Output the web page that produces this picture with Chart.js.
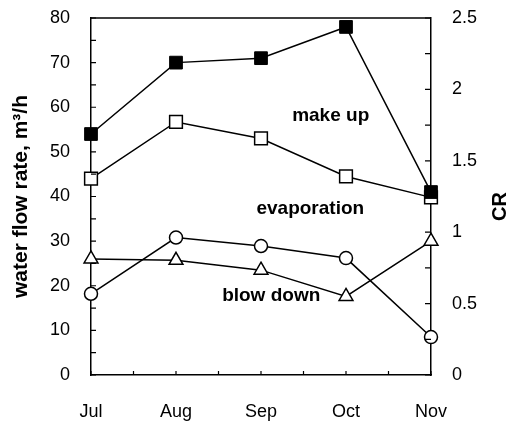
<!DOCTYPE html>
<html>
<head>
<meta charset="utf-8">
<script src="https://cdn.jsdelivr.net/npm/chart.js@4.4.1/dist/chart.umd.min.js"></script>
<style>
  html, body { margin: 0; padding: 0; background: #fff; }
  #wrap { width: 510px; height: 424px; position: relative; }
</style>
</head>
<body>
<div id="wrap"><canvas id="flowChart"></canvas></div>
<script>
// monthly values (left axis, m3/h)
const months = ['Jul', 'Aug', 'Sep', 'Oct', 'Nov'];
const makeUp = [54, 70, 71, 78, 41];               // filled squares
const makeUpCalc = [44, 56.7, 53, 44.5, 39.8];     // open squares
const evaporation = [18.2, 30.8, 28.9, 26.2, 8.5]; // circles
const blowDown = [26, 25.7, 23.5, 17.6, 30];       // triangles

const flowTicks = [0, 10, 20, 30, 40, 50, 60, 70, 80];
const crTicks = [0, 0.5, 1, 1.5, 2, 2.5];

// text labels placed in data units
const notes = [
    { text: 'make up', x: 2.82, y: 58 },
    { text: 'evaporation', x: 2.58, y: 37.3 },
    { text: 'blow down', x: 2.12, y: 17.8 }
];

const ink = '#000';

const framePlugin = {
    id: 'frame',
    afterDraw(chart) {
        const { ctx, chartArea: a, scales } = chart;
        ctx.save();
        ctx.strokeStyle = ink;
        ctx.lineWidth = 1.5;

        // top edge of the box
        ctx.beginPath();
        ctx.moveTo(a.left, a.top);
        ctx.lineTo(a.right, a.top);
        ctx.stroke();

        // inward tick marks
        ctx.lineWidth = 1.2;
        ctx.beginPath();
        for (let v = 0; v <= 80; v += 5) {
            const y = scales.y.getPixelForValue(v);
            ctx.moveTo(a.left, y);
            ctx.lineTo(a.left + 5, y);
        }
        for (let v = 0; v <= 2.5; v += 0.25) {
            const y = scales.y1.getPixelForValue(v);
            ctx.moveTo(a.right, y);
            ctx.lineTo(a.right - 6, y);
        }
        for (let i = 0; i <= months.length - 1; i += 0.5) {
            const x = scales.x.getPixelForValue(i);
            ctx.moveTo(x, a.bottom);
            ctx.lineTo(x, a.bottom - 4);
        }
        ctx.stroke();

        ctx.fillStyle = ink;
        ctx.font = 'bold 19px "Liberation Sans", Arial, sans-serif';
        ctx.textAlign = 'center';
        ctx.textBaseline = 'middle';
        notes.forEach(n => {
            ctx.fillText(n.text, scales.x.getPixelForValue(n.x), scales.y.getPixelForValue(n.y));
        });

        // right axis title, reading bottom to top
        ctx.font = 'bold 20px "Liberation Sans", Arial, sans-serif';
        ctx.translate(chart.width - 10, (a.top + a.bottom) / 2 + 10);
        ctx.rotate(-Math.PI / 2);
        ctx.fillText('CR', 0, 0);
        ctx.restore();
    }
};

const tickFont = { family: '"Liberation Sans", Arial, sans-serif', size: 18 };

const ctx = document.getElementById('flowChart').getContext('2d');

new Chart(ctx, {
    type: 'line',
    data: {
        labels: months,
        datasets: [
            {
                label: 'make up',
                data: makeUp,
                borderColor: ink,
                backgroundColor: ink,
                pointStyle: 'rect',
                pointRadius: 9,
                pointBorderWidth: 1,
                yAxisID: 'y'
            },
            {
                label: 'make up (calc)',
                data: makeUpCalc,
                borderColor: ink,
                backgroundColor: '#fff',
                pointStyle: 'rect',
                pointRadius: 9,
                pointBorderWidth: 1.5,
                yAxisID: 'y'
            },
            {
                label: 'evaporation',
                data: evaporation,
                borderColor: ink,
                backgroundColor: '#fff',
                pointStyle: 'circle',
                pointRadius: 6.5,
                pointBorderWidth: 1.5,
                yAxisID: 'y'
            },
            {
                label: 'blow down',
                data: blowDown,
                borderColor: ink,
                backgroundColor: '#fff',
                pointStyle: 'triangle',
                pointRadius: 8,
                pointBorderWidth: 1.5,
                yAxisID: 'y'
            }
        ]
    },
    options: {
        responsive: true,
        maintainAspectRatio: false,
        animation: false,
        layout: {
            padding: { top: 18, left: 0, right: 0, bottom: 0 }
        },
        elements: {
            line: { borderWidth: 1.5, tension: 0 }
        },
        scales: {
            x: {
                offset: false,
                grid: { display: false, drawTicks: false },
                border: { display: true, color: ink, width: 1.5 },
                ticks: { color: ink, font: tickFont, padding: 26, maxRotation: 0 },
                afterFit: s => { s.height = 49; }
            },
            y: {
                position: 'left',
                min: 0,
                max: 80,
                grid: { display: false, drawTicks: false },
                border: { display: true, color: ink, width: 1.5 },
                ticks: { color: ink, font: tickFont, padding: 21 },
                afterBuildTicks: s => { s.ticks = flowTicks.map(v => ({ value: v })); },
                title: {
                    display: true,
                    text: 'water flow rate, m³/h',
                    color: ink,
                    font: { family: '"Liberation Sans", Arial, sans-serif', size: 21, weight: 'bold' },
                    padding: { top: 9, bottom: 0 }
                },
                afterFit: s => { s.width = 91; s.paddingTop = 0; s.paddingBottom = 0; }
            },
            y1: {
                position: 'right',
                min: 0,
                max: 2.5,
                grid: { display: false, drawTicks: false },
                border: { display: true, color: ink, width: 1.5 },
                ticks: { color: ink, font: tickFont, padding: 21, callback: v => String(v) },
                afterBuildTicks: s => { s.ticks = crTicks.map(v => ({ value: v })); },
                afterFit: s => { s.width = 79; s.paddingTop = 0; s.paddingBottom = 0; }
            }
        },
        plugins: {
            legend: { display: false },
            tooltip: { enabled: false }
        }
    },
    plugins: [framePlugin]
});
</script>
</body>
</html>
